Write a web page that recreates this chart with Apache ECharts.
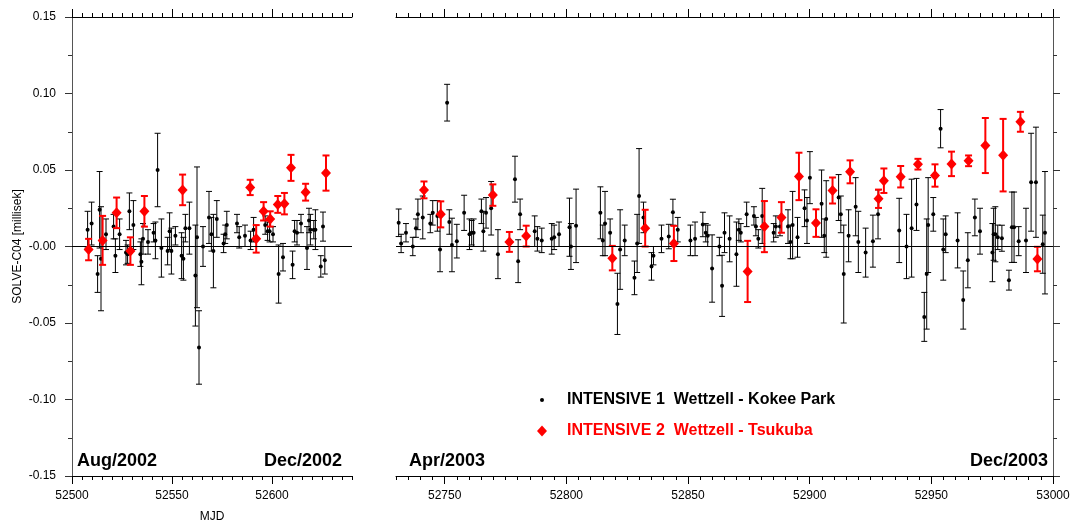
<!DOCTYPE html>
<html>
<head>
<meta charset="utf-8">
<script src="https://cdn.jsdelivr.net/npm/echarts@6/dist/echarts.min.js"></script>
<style>
html,body{margin:0;padding:0;background:#fff;}
#chart{width:1070px;height:521px;}
</style>
</head>
<body>
<div id="chart"></div>
<script>
// ---------------- DATA ----------------
// INTENSIVE 1 (Wettzell - Kokee Park): MJD, value [ms], error [ms]
const i1Mjd = [
 52507.8,52509.8,52512.8,52513.8,52514.5,52517.0,52520.8,52521.7,52523.8,52527.0,
 52527.8,52528.7,52530.7,52534.2,52534.7,52535.5,52538.0,52540.8,52541.7,52542.8,
 52544.7,52547.8,52548.8,52549.7,52551.7,52554.8,52555.7,52556.7,52558.7,52561.7,
 52562.5,52563.5,52565.5,52568.5,52569.7,52570.7,52572.4,52575.8,52576.6,52577.4,
 52582.5,52583.6,52586.5,52589.3,52590.8,52596.6,52597.8,52598.8,52600.5,52603.3,
 52605.5,52610.3,52611.3,52612.5,52614.5,52617.5,52618.5,52619.2,52620.9,52621.7,
 52624.4,52625.5,52626.4,
 52731.1,52732.1,52734.1,52736.9,52738.2,52739.0,52741.0,52744.1,52745.1,52747.0,
 52748.1,52751.0,52751.9,52753.0,52755.0,52758.0,52760.2,52761.1,52761.9,52765.1,
 52765.9,52767.0,52769.1,52771.9,52778.9,52780.2,52781.0,52787.0,52788.1,52789.9,
 52794.0,52795.0,52797.0,52801.3,52801.9,52804.0,52814.0,52815.0,52815.9,52818.0,
 52821.0,52822.1,52824.0,52828.0,52829.1,52829.9,52831.7,52835.0,52835.8,52839.1,
 52842.1,52843.8,52845.8,52851.0,52852.9,52856.1,52857.3,52858.1,52859.9,52862.9,
 52864.0,52865.0,52867.1,52869.9,52870.9,52871.7,52874.1,52877.1,52877.9,52878.9,
 52880.5,52885.2,52886.1,52887.8,52891.1,52892.1,52893.0,52895.0,52897.9,52898.9,
 52900.1,52904.9,52906.0,52906.8,52911.9,52912.8,52914.0,52916.0,52918.9,52920.0,
 52923.0,52926.0,52928.1,52936.8,52939.8,52941.9,52943.9,52947.1,52948.1,52948.7,
 52950.8,52953.8,52954.9,52955.9,52960.8,52963.1,52965.0,52967.9,52970.0,52975.1,
 52975.6,52976.3,52977.3,52979.0,52981.9,52983.1,52984.0,52985.9,52988.9,52991.0,
 52993.0,52995.8,52996.7
];
const i1Val = [
 0.011,0.015,-0.018,0.024,-0.008,0.008,0.013,-0.006,0.008,-0.004,
 -0.005,0.023,0.014,-0.005,-0.010,0.005,0.003,0.009,0.004,0.050,
 -0.001,-0.003,0.010,-0.003,0.007,-0.006,-0.008,0.012,0.012,-0.019,
 0.006,-0.066,0.000,0.019,0.008,-0.003,0.018,0.002,0.008,0.014,
 0.015,0.006,0.007,0.004,0.011,0.014,0.010,0.010,0.008,-0.018,
 -0.007,-0.012,0.010,0.009,0.015,-0.001,0.017,0.011,0.011,0.011,
 -0.013,0.013,-0.009,
 0.0155,0.002,0.009,0.000,0.012,0.021,0.019,0.015,0.022,0.020,
 -0.002,0.094,0.016,0.001,0.0035,0.022,0.008,0.009,0.009,0.023,
 0.010,0.022,0.025,-0.005,0.044,-0.0096,0.021,0.010,0.005,0.004,
 0.005,0.006,0.008,0.0126,0.000,0.0135,0.022,0.004,0.015,0.009,
 -0.0375,-0.002,0.004,-0.0205,0.002,0.033,0.019,-0.013,-0.006,0.005,
 0.0065,0.0224,0.011,0.004,0.005,0.0144,0.009,0.007,-0.0144,0.000,
 -0.0257,0.009,0.005,-0.005,0.011,0.009,0.021,0.020,0.013,0.005,
 0.020,0.009,0.013,0.013,0.013,0.003,0.014,0.006,0.025,0.017,
 0.045,0.028,0.007,0.018,0.032,0.021,-0.018,0.007,0.026,0.003,
 -0.004,0.0035,0.021,0.0105,0.000,0.012,0.0275,-0.046,-0.018,0.014,
 0.021,0.077,-0.002,0.008,0.004,-0.035,-0.009,0.019,0.010,-0.004,
 0.008,0.008,0.006,0.0054,-0.022,0.0126,0.0126,0.0035,0.004,0.042,
 0.042,0.0015,0.009
];
const i1Err = [
 0.012,0.014,0.012,0.025,0.034,0.010,0.008,0.011,0.010,0.008,
 0.006,0.012,0.016,0.008,0.015,0.010,0.008,0.006,0.012,0.024,
 0.019,0.009,0.012,0.015,0.006,0.015,0.014,0.009,0.017,0.033,
 0.046,0.024,0.013,0.017,0.011,0.024,0.012,0.006,0.006,0.009,
 0.006,0.007,0.007,0.006,0.008,0.006,0.006,0.007,0.005,0.019,
 0.009,0.009,0.007,0.008,0.006,0.014,0.008,0.010,0.006,0.013,
 0.007,0.0095,0.009,
 0.009,0.006,0.006,0.006,0.006,0.010,0.014,0.006,0.008,0.010,
 0.0145,0.012,0.008,0.0175,0.011,0.0115,0.010,0.008,0.009,0.008,
 0.013,0.010,0.0175,0.016,0.015,0.014,0.010,0.010,0.008,0.008,
 0.010,0.008,0.008,0.019,0.015,0.024,0.017,0.010,0.021,0.009,
 0.020,0.026,0.010,0.011,0.019,0.031,0.010,0.009,0.006,0.009,
 0.008,0.0085,0.008,0.010,0.011,0.008,0.006,0.007,0.022,0.006,
 0.020,0.013,0.015,0.021,0.007,0.006,0.008,0.006,0.006,0.006,
 0.018,0.006,0.007,0.006,0.011,0.011,0.022,0.013,0.012,0.015,
 0.017,0.022,0.011,0.025,0.015,0.012,0.032,0.017,0.019,0.020,
 0.016,0.017,0.016,0.021,0.021,0.032,0.017,0.016,0.036,0.031,
 0.011,0.0125,0.020,0.012,0.018,0.019,0.018,0.012,0.015,0.019,
 0.017,0.018,0.008,0.0085,0.0065,0.023,0.023,0.0095,0.021,0.032,
 0.036,0.019,0.040
];

// INTENSIVE 2 (Wettzell - Tsukuba)
const i2Mjd = [
 52508.3,52515.3,52522.3,52529.2,52536.2,52555.3,52589.1,52592.1,52595.8,52599.1,
 52602.9,52606.2,52609.5,52616.8,52627.0,
 52741.5,52748.4,52769.8,52776.6,52783.5,52818.9,52832.4,52844.2,52874.5,52881.4,
 52888.4,52895.6,52902.6,52909.4,52916.6,52928.3,52930.5,52937.4,52944.5,52951.5,
 52958.3,52965.3,52972.2,52979.5,52986.6,52993.6
];
const i2Val = [
 -0.002,0.004,0.022,-0.003,0.023,0.037,0.0386,0.005,0.023,0.018,
 0.0275,0.028,0.0514,0.0355,0.048,
 0.037,0.021,0.0336,0.003,0.0068,-0.0076,0.012,0.002,-0.0163,0.013,
 0.019,0.0458,0.0153,0.0366,0.0488,0.0312,0.043,0.0456,0.0538,0.0464,
 0.054,0.056,0.066,0.0597,0.0815,-0.0082
];
const i2Err = [
 0.007,0.016,0.010,0.009,0.010,0.010,0.005,0.009,0.006,0.005,
 0.0055,0.007,0.0085,0.0055,0.0115,
 0.0055,0.0085,0.007,0.0065,0.0068,0.008,0.012,0.0115,0.020,0.0167,
 0.010,0.0155,0.009,0.0085,0.0075,0.006,0.008,0.007,0.0035,0.0073,
 0.008,0.0035,0.018,0.0237,0.0065,0.008
];

// Axis ranges & tick labels
const leftRange = [52500, 52640];
const rightRange = [52730, 53000];
const leftMajorX = [52500, 52550, 52600];
const rightMajorX = [52750, 52800, 52850, 52900, 52950, 53000];
const yMajor = [-0.15, -0.10, -0.05, 0.00, 0.05, 0.10, 0.15];
const yMinor = [-0.125, -0.075, -0.025, 0.025, 0.075, 0.125];
const yRange = [-0.15, 0.15];
const panelLabels = ['Aug/2002', 'Dec/2002', 'Apr/2003', 'Dec/2003'];
const name1 = 'INTENSIVE 1  Wettzell - Kokee Park';
const name2 = 'INTENSIVE 2  Wettzell - Tsukuba';

// ---------------- BUILD ----------------
const FONT = '"Liberation Sans", Arial, Helvetica, sans-serif';
function minorTicks(r) { const a = []; for (let v = r[0]; v <= r[1]; v += 5) a.push(v); return a; }
function rows(m, v, e, lo, hi) {
  const out = [];
  for (let i = 0; i < m.length; i++) if (m[i] >= lo && m[i] <= hi) out.push([m[i], v[i], e[i]]);
  return out;
}

function xAx(grid, range, pos, ticks, len, showLine, labels, extra) {
  return Object.assign({
    type: 'value', gridIndex: grid, min: range[0], max: range[1], position: pos,
    axisLine: { show: showLine, onZero: false, lineStyle: { color: '#000', width: 1 } },
    axisTick: { show: true, inside: false, length: len, customValues: ticks, lineStyle: { color: '#000', width: 1 } },
    axisLabel: labels ? { show: true, customValues: labels, margin: 14, color: '#000', fontSize: 12, fontFamily: FONT,
      formatter: v => String(Math.round(v)) } : { show: false },
    splitLine: { show: false }
  }, extra || {});
}
function yAx(grid, pos, ticks, len, showLine, labels, extra) {
  return Object.assign({
    type: 'value', gridIndex: grid, min: yRange[0], max: yRange[1], position: pos,
    axisLine: { show: showLine, onZero: false, lineStyle: { color: '#555', width: 1 } },
    axisTick: { show: true, inside: false, length: len, customValues: ticks, lineStyle: { color: '#333', width: 1 } },
    axisLabel: labels ? {
      show: true, customValues: labels, margin: 16, color: '#000', fontSize: 12, fontFamily: FONT,
      formatter: v => Math.abs(v) < 1e-9 ? '-0.00' : v.toFixed(2)
    } : { show: false },
    splitLine: { show: false }
  }, extra || {});
}

function errRender(color, width, capHalf) {
  return function (params, api) {
    const x = api.value(0), y = api.value(1), e = api.value(2);
    const a = api.coord([x, y + e]), b = api.coord([x, y - e]);
    const st = { stroke: color, lineWidth: width };
    return { type: 'group', children: [
      { type: 'line', shape: { x1: a[0], y1: a[1], x2: b[0], y2: b[1] }, style: st },
      { type: 'line', shape: { x1: a[0] - capHalf, y1: a[1], x2: a[0] + capHalf, y2: a[1] }, style: st },
      { type: 'line', shape: { x1: b[0] - capHalf, y1: b[1], x2: b[0] + capHalf, y2: b[1] }, style: st }
    ] };
  };
}

function panelSeries(xi, yi, lo, hi) {
  const b = rows(i1Mjd, i1Val, i1Err, lo, hi);
  const r = rows(i2Mjd, i2Val, i2Err, lo, hi);
  return [
    { type: 'custom', name: 'err1', xAxisIndex: xi, yAxisIndex: yi, data: b, encode: { x: 0, y: 1 },
      renderItem: errRender('#000', 1, 3), silent: true, z: 2 },
    { type: 'scatter', name: name1, xAxisIndex: xi, yAxisIndex: yi, data: b.map(d => [d[0], d[1]]),
      symbol: 'circle', symbolSize: 4, itemStyle: { color: '#000', opacity: 1 }, z: 3, silent: true,
      markLine: { silent: true, symbol: 'none', label: { show: false },
        lineStyle: { color: '#000', width: 1, type: 'solid' }, data: [{ yAxis: 0 }], animation: false } },
    { type: 'custom', name: 'err2', xAxisIndex: xi, yAxisIndex: yi, data: r, encode: { x: 0, y: 1 },
      renderItem: errRender('#ff0000', 2, 3.5), silent: true, z: 4 },
    { type: 'scatter', name: name2, xAxisIndex: xi, yAxisIndex: yi, data: r.map(d => [d[0], d[1]]),
      symbol: 'diamond', symbolSize: [10, 11], itemStyle: { color: '#ff0000', opacity: 1 }, z: 5, silent: true }
  ];
}

const chart = echarts.init(document.getElementById('chart'), null, { renderer: 'canvas' });
const labelStyle = (x, y, text, align) => ({
  type: 'text', x: x, y: y, silent: true,
  style: { text: text, font: 'bold 18px ' + FONT, fill: '#000',
    textAlign: align, align: align, textVerticalAlign: 'middle', verticalAlign: 'middle' }
});

chart.setOption({
  animation: false,
  backgroundColor: '#fff',
  grid: [
    { left: 72, top: 17, width: 280, height: 459, containLabel: false, outerBoundsMode: 'none' },
    { left: 396, top: 17, width: 657, height: 459, containLabel: false, outerBoundsMode: 'none' }
  ],
  xAxis: [
    xAx(0, leftRange, 'bottom', leftMajorX, 8, true, leftMajorX,
      { name: 'MJD', nameLocation: 'middle', nameGap: 35, nameTextStyle: { fontSize: 12, fontFamily: FONT, color: '#000' } }),
    xAx(0, leftRange, 'bottom', minorTicks(leftRange), 4, false, null),
    xAx(0, leftRange, 'top', leftMajorX, 8, true, null),
    xAx(0, leftRange, 'top', minorTicks(leftRange), 4, false, null),
    xAx(1, rightRange, 'bottom', rightMajorX, 8, true, rightMajorX),
    xAx(1, rightRange, 'bottom', minorTicks(rightRange), 4, false, null),
    xAx(1, rightRange, 'top', rightMajorX, 8, true, null),
    xAx(1, rightRange, 'top', minorTicks(rightRange), 4, false, null)
  ],
  yAxis: [
    yAx(0, 'left', yMajor, 7, true, yMajor,
      { name: 'SOLVE-C04 [millisek]', nameLocation: 'middle', nameGap: 48, nameTextStyle: { fontSize: 12, fontFamily: FONT, color: '#000' } }),
    yAx(0, 'left', yMinor, 4, false, null),
    yAx(1, 'right', yMajor, 7, true, null),
    yAx(1, 'right', yMinor, 4, false, null)
  ],
  legend: [
    { data: [{ name: name1, icon: 'circle' }], left: 540, top: 392, padding: 0, itemWidth: 4, itemHeight: 4,
      selectedMode: false, textStyle: { fontSize: 16, fontWeight: 'bold', fontFamily: FONT, color: '#000', padding: [0, 0, 0, 18] } },
    { data: [{ name: name2, icon: 'diamond' }], left: 537, top: 423, padding: 0, itemWidth: 10, itemHeight: 11,
      selectedMode: false, textStyle: { fontSize: 16, fontWeight: 'bold', fontFamily: FONT, color: '#ff0000', padding: [0, 0, 0, 15] } }
  ],
  graphic: [
    labelStyle(77, 461, panelLabels[0], 'left'),
    labelStyle(342, 461, panelLabels[1], 'right'),
    labelStyle(409, 461, panelLabels[2], 'left'),
    labelStyle(1048, 461, panelLabels[3], 'right')
  ],
  series: [].concat(
    panelSeries(0, 0, leftRange[0], leftRange[1]),
    panelSeries(4, 2, rightRange[0], rightRange[1])
  )
});
</script>
</body>
</html>
